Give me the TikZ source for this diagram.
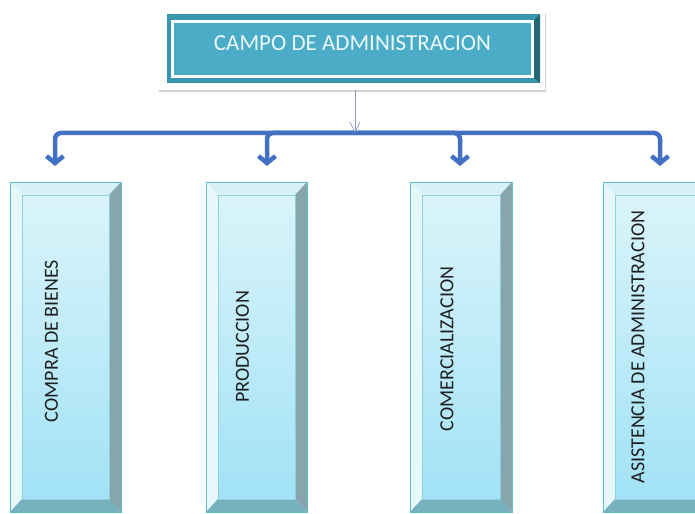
\documentclass[tikz,border=0pt]{standalone}
\usepackage{fontspec}
\setmainfont{Carlito}
\usetikzlibrary{arrows.meta,shadows}

\definecolor{faceteal}{RGB}{74,172,198}
\definecolor{bandteal}{RGB}{58,150,172}
\definecolor{darkteal}{RGB}{36,104,120}
\definecolor{busblue}{RGB}{66,112,194}
\definecolor{thinblue}{RGB}{140,152,192}
\definecolor{boxedge}{RGB}{92,190,202}
\definecolor{bvtop}{RGB}{214,242,248}
\definecolor{bvleft}{RGB}{230,248,252}
\definecolor{bvright}{RGB}{136,164,172}
\definecolor{bvbot}{RGB}{118,178,190}
\definecolor{facetop}{RGB}{218,244,250}
\definecolor{facebot}{RGB}{162,226,246}

\tikzset{
  bevelbox/.style={draw=boxedge, line width=0.8bp, inner sep=0pt, minimum height=330bp,
    path picture={
      \coordinate (nw) at (path picture bounding box.north west);
      \coordinate (ne) at (path picture bounding box.north east);
      \coordinate (sw) at (path picture bounding box.south west);
      \coordinate (se) at (path picture bounding box.south east);
      \fill[bvtop] (nw) -- (ne) -- ([shift={(-12bp,-13bp)}]ne) -- ([shift={(12bp,-13bp)}]nw) -- cycle;
      \fill[bvleft] (nw) -- ([shift={(12bp,-13bp)}]nw) -- ([shift={(12bp,13bp)}]sw) -- (sw) -- cycle;
      \fill[bvright] (ne) -- (se) -- ([shift={(-12bp,13bp)}]se) -- ([shift={(-12bp,-13bp)}]ne) -- cycle;
      \fill[bvbot] (sw) -- ([shift={(12bp,13bp)}]sw) -- ([shift={(-12bp,13bp)}]se) -- (se) -- cycle;
      \shade[top color=facetop, bottom color=facebot, draw=boxedge!70, line width=0.4bp]
        ([shift={(12bp,-13bp)}]nw) rectangle ([shift={(-12bp,13bp)}]se);
    }},
  topbox/.style={fill=white, inner sep=0pt, minimum width=387bp, minimum height=79bp,
    drop shadow={shadow xshift=1bp, shadow yshift=-2.5bp, opacity=0.35},
    path picture={
      \coordinate (nw) at (path picture bounding box.north west);
      \coordinate (se) at (path picture bounding box.south east);
      \fill[bandteal] ([shift={(9bp,-3bp)}]nw) rectangle ([shift={(-5bp,7bp)}]se);
      \fill[white] ([shift={(13bp,-9bp)}]nw) rectangle ([shift={(-11bp,12bp)}]se);
      \fill[faceteal] ([shift={(16bp,-12bp)}]nw) rectangle ([shift={(-14bp,15bp)}]se);
      \fill[darkteal] ([shift={(-11bp,-9bp)}]se |- nw) -- ([shift={(-5bp,-3bp)}]se |- nw)
        -- ([shift={(-5bp,7bp)}]se) -- ([shift={(-11bp,12bp)}]se) -- cycle;
    }},
  toptext/.style={text=white!92!cyan, font=\fontsize{23bp}{26bp}\selectfont, inner sep=0pt},
  vtext/.style={rotate=90, text=black!88, font=\fontsize{20bp}{23bp}\selectfont, inner sep=0pt},
  busline/.style={busblue, line width=4.5bp, rounded corners=6bp,
    -{Straight Barb[length=7bp,width=17bp]}},
  thinarrow/.style={thinblue, line width=0.7bp, -{Straight Barb[length=10bp,width=10bp]}}
}

\begin{document}
\begin{tikzpicture}[x=1bp,y=-1bp]
\clip (0,0) rectangle (695,514);
\fill[white] (0,0) rectangle (695,514);

% head of the chart
\node[topbox] (top) at (351.5,50.5) {};
\node[toptext] (toplbl) at ([xshift=1bp,yshift=7.5bp]top.center) {CAMPO DE ADMINISTRACION};

% the four fields
\node[bevelbox, minimum width=111bp] (b1) at (65.5,347) {};
\node[bevelbox, minimum width=101bp] (b2) at (256.5,347) {};
\node[bevelbox, minimum width=102bp] (b3) at (461,347) {};
\node[bevelbox, minimum width=104bp] (b4) at (655,347) {};
\node[vtext] (l1) at ([xshift=-14bp,yshift=6bp]b1.center) {COMPRA DE BIENES};
\node[vtext] (l2) at ([xshift=-14bp]b2.center) {PRODUCCION};
\node[vtext] (l3) at ([xshift=-14bp,yshift=-2bp]b3.center) {COMERCIALIZACION};
\node[vtext] (l4) at ([xshift=-17bp]b4.center) {ASISTENCIA DE ADMINISTRACION};

% connectors
\coordinate (bus) at (355,133);
\coordinate (t1) at (55,166);
\coordinate (t2) at (267,166);
\coordinate (t3) at (460,166);
\coordinate (t4) at (660,166);
\foreach \t in {t1,t2,t3,t4}
  \draw[busline] (bus) -| (\t);
\draw[thinarrow] (top.south -| bus) -- (bus);
\end{tikzpicture}
\end{document}
